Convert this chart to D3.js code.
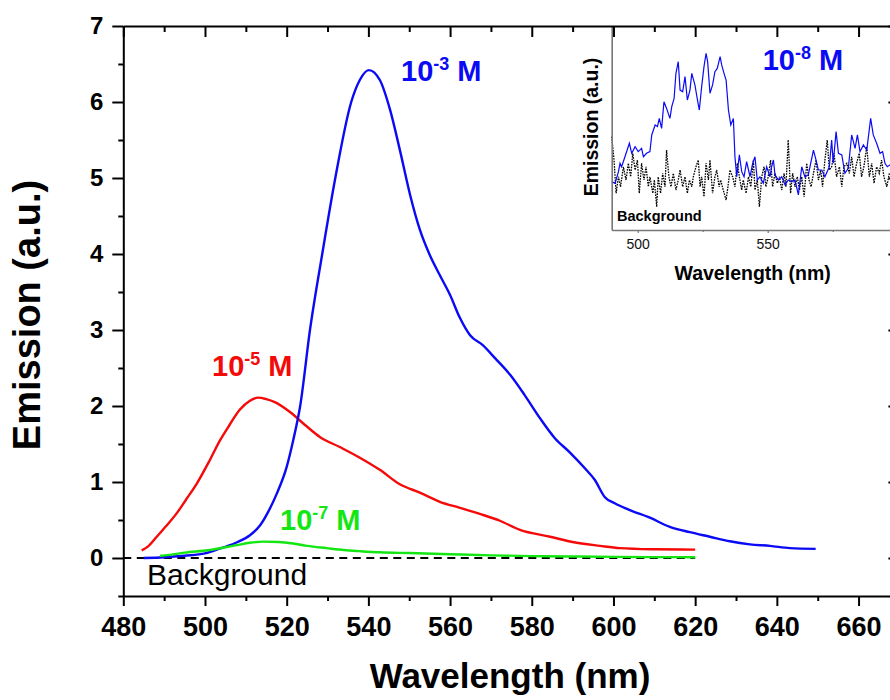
<!DOCTYPE html>
<html><head><meta charset="utf-8">
<script src="https://cdn.jsdelivr.net/npm/d3@7"></script>
<style>body{margin:0;background:#fff}svg{display:block;font-family:"Liberation Sans",Arial,Helvetica,sans-serif}</style>
</head><body><svg id="c" width="890" height="700"></svg>
<script>
// ---------- main chart data ----------
const blueWl  = [485,490,495,500,504,508,511,513.5,515.5,517.6,520,521.6,523.3,525.7,528.7,531.9,535.8,537.9,540.1,542.8,545.3,547.7,550.2,552.6,555,557.5,560,562.4,564.9,568,571,574.7,578.3,582,585.6,589.3,593,595.4,597.9,600.3,604,608.9,613.8,618.7,623.6,628.5,633.4,638.3,643.2,649.5];
const blueVal = [0.0,0.01,0.03,0.06,0.13,0.21,0.30,0.43,0.61,0.85,1.20,1.55,2.0,3.0,4.0,5.0,6.0,6.29,6.42,6.29,5.9,5.37,4.78,4.32,3.99,3.72,3.46,3.16,2.93,2.8,2.63,2.41,2.14,1.84,1.58,1.39,1.18,1.03,0.80,0.72,0.63,0.53,0.41,0.34,0.28,0.22,0.18,0.16,0.13,0.12];
const redWl   = [484.5,486,488.2,490.5,493.1,495.5,498,501.2,503.7,506,508.5,511,513,515,517.1,520.8,524.5,528.2,533,537.9,542.8,547.7,552.6,557.5,562.4,567.3,572.2,577.1,584.5,590,596.7,601.6,610,620];
const redVal  = [0.10,0.15,0.28,0.42,0.59,0.78,0.98,1.29,1.55,1.75,1.95,2.07,2.11,2.09,2.05,1.92,1.75,1.59,1.46,1.32,1.16,0.97,0.86,0.74,0.66,0.58,0.49,0.37,0.28,0.21,0.16,0.13,0.115,0.11];
const greenWl = [489,490.2,495,501.2,507.8,511,514.3,518,521.6,525,529.8,534,538,542.8,550,560,570,580,590,600,610,620];
const greenVal= [0.03,0.035,0.07,0.105,0.17,0.2,0.215,0.21,0.19,0.16,0.13,0.105,0.09,0.075,0.065,0.05,0.035,0.025,0.02,0.015,0.012,0.01];
const bgLineWl = [480,620];
const bgLineVal = [0,0];
const xMajor = [480,500,520,540,560,580,600,620,640,660];
const xMinor = [490,510,530,550,570,590,610,630,650,670];
const yMajor = [0,1,2,3,4,5,6,7];
const yMinor = [-0.5,0.5,1.5,2.5,3.5,4.5,5.5,6.5];

// ---------- inset data ----------
const insetWl = [490.0,491.3,492.6,493.2,493.8,495.1,496.8,497.7,499.0,500.2,501.5,502.2,503.4,504.7,505.4,506.7,507.6,508.3,509.2,510.1,511.1,512.4,513.1,514.0,514.7,515.6,516.3,517.3,518.2,519.1,520.1,520.8,522.0,523.1,523.7,524.6,525.5,526.3,526.9,527.8,528.8,529.7,530.6,531.7,532.3,533.2,534.0,534.9,535.8,536.8,537.4,538.1,539.1,540.0,540.9,541.9,543.2,544.2,545.1,546.0,547.0,548.3,549.6,550.9,551.5,552.2,552.8,554.1,555.4,556.7,557.9,559.2,560.5,561.8,563.1,564.3,565.6,567.6,568.6,569.5,570.8,572.0,573.7,574.6,575.2,576.3,577.2,578.5,579.7,581.0,582.3,583.6,584.5,585.5,586.8,588.1,589.6,590.6,591.9,593.2,594.2,595.1,596.0,597.0,598.5,600.0];
const insetBlue = [23.7,22.9,28.6,32.7,31.0,35.9,42.5,37.6,40.8,38.4,40.0,35.9,37.6,38.4,46.6,51.5,50.7,54.7,49.8,62.9,59.6,54.7,60.5,64.5,76.8,82.5,68.6,67.8,75.2,63.7,68.6,76.8,71.1,62.9,58.8,70.3,80.1,86.6,82.5,67.0,71.1,77.6,79.2,85.0,80.9,76.8,73.5,58.8,51.5,54.7,35.9,26.1,36.8,28.6,26.1,33.5,26.1,32.7,35.9,24.5,26.1,22.9,31.0,26.1,31.0,34.3,27.0,24.5,26.1,22.1,24.5,23.7,24.5,17.2,31.0,26.1,27.0,39.2,34.3,29.4,29.4,26.1,31.0,44.1,32.7,48.2,37.6,36.8,27.8,30.2,46.6,40.0,46.6,38.4,41.7,39.2,54.7,46.6,42.5,37.6,38.4,32.7,31.0,31.9,33.0,30.0];
const insetBgWl = [490.0,490.9,491.7,492.6,493.4,494.5,495.5,496.4,497.3,498.1,499.0,499.9,500.6,501.5,502.4,503.2,504.1,504.7,505.8,506.4,507.3,507.9,508.8,509.6,510.5,511.1,512.0,512.8,513.7,514.7,515.6,516.3,517.3,518.2,519.1,519.9,520.8,521.4,522.4,523.3,524.0,524.6,525.5,526.3,527.2,527.8,528.8,529.7,530.4,531.3,531.9,532.9,534.0,534.7,535.5,536.5,537.4,538.3,539.1,540.0,540.6,541.7,542.6,543.5,544.5,545.1,546.0,546.8,547.7,548.6,549.3,550.2,551.1,551.9,552.8,553.7,554.5,555.4,556.3,557.0,557.9,558.8,559.6,560.5,561.4,562.2,563.1,564.0,565.0,565.9,566.7,567.6,568.6,569.5,570.4,571.1,572.0,572.9,573.7,574.6,575.5,576.5,577.6,578.5,579.3,580.4,581.4,582.3,583.2,584.2,585.2,586.1,587.0,588.1,589.1,590.0,590.9,591.9,592.9,593.8,594.7,595.8,596.8];
const insetBgVal = [45.8,34.3,18.0,26.1,21.2,31.0,24.5,32.7,26.1,37.6,29.4,34.3,18.0,32.7,24.5,31.0,21.2,26.1,18.0,24.5,11.4,26.1,18.0,27.8,21.2,39.2,26.1,21.2,27.8,19.6,24.5,29.4,21.2,26.1,18.0,24.5,21.2,26.1,31.0,34.3,21.2,26.1,16.3,32.7,24.5,34.3,18.0,26.1,29.4,21.2,24.5,19.6,14.7,21.2,29.4,26.1,21.2,32.7,26.1,19.6,24.5,18.0,26.1,21.2,34.3,19.6,24.5,11.4,26.1,31.0,21.2,26.1,34.3,21.2,27.8,22.9,26.1,19.6,27.8,21.2,44.1,18.0,27.8,21.2,26.1,19.6,26.1,16.3,32.7,24.5,21.2,27.8,34.3,24.5,29.4,21.2,34.3,44.1,29.4,31.0,37.6,26.1,31.0,21.2,31.0,32.7,27.8,35.9,26.1,32.7,37.6,26.1,31.0,40.9,26.1,32.7,22.9,31.0,27.8,34.3,26.1,21.2,27.8];
const insetXMajor = [500,550,600];
const insetXMinor = [525,575];

// ---------- colours ----------
const C_BLUE = "#0a0af5", C_RED = "#f50a0a", C_GREEN = "#14e614";

const svg = d3.select("#c");
const x = d3.scaleLinear().domain([480,670]).range([123.3, 899.4]);
const y = d3.scaleLinear().domain([-0.5,7]).range([596, 26]);

const line = d3.line().x(d=>x(d[0])).y(d=>y(d[1])).curve(d3.curveMonotoneX);

function drawSeries(wl, val, color, w){
  svg.append("path").datum(d3.zip(wl,val)).attr("d",line)
    .attr("fill","none").attr("stroke",color).attr("stroke-width",w).attr("stroke-linejoin","round");
}
// dashed background
svg.append("path").datum(d3.zip(bgLineWl,bgLineVal)).attr("d",d3.line().x(d=>x(d[0])).y(d=>y(d[1])))
  .attr("fill","none").attr("stroke","#000").attr("stroke-width",2).attr("stroke-dasharray","8,5.5");
drawSeries(redWl, redVal, C_RED, 2.4);
drawSeries(blueWl, blueVal, C_BLUE, 2.4);
drawSeries(greenWl, greenVal, C_GREEN, 2.4);

// ---------- inset ----------
const ix = d3.scaleLinear().domain([490,600]).range([611.7, 897.7]);
const iy = d3.scaleLinear().domain([0,100]).range([230, 26]);
svg.append("rect").attr("x",ix(490)).attr("y",iy(100)).attr("width",ix(600)-ix(490)).attr("height",iy(0)-iy(100)).attr("fill","#fff");
const iline = d3.line().x(d=>ix(d[0])).y(d=>iy(d[1]));
svg.append("path").datum(d3.zip(insetBgWl,insetBgVal)).attr("d",iline)
  .attr("fill","none").attr("stroke","#000").attr("stroke-width",1.3).attr("stroke-dasharray","1.6,1.1");
svg.append("path").datum(d3.zip(insetWl,insetBlue)).attr("d",iline)
  .attr("fill","none").attr("stroke",C_BLUE).attr("stroke-width",1.2);
// inset axes
const ib = svg.append("g").attr("transform",`translate(0,${iy(0)})`)
  .call(d3.axisBottom(ix).tickValues(insetXMajor).tickSize(3).tickPadding(6).tickSizeOuter(0).tickFormat(d=>d===600?"":d));
ib.select(".domain").attr("stroke","#777").attr("stroke-width",1.6);
ib.selectAll(".tick line").attr("stroke","#777").attr("stroke-width",1.2);
ib.selectAll("text").attr("font-size",14).attr("fill","#111").attr("font-family","Liberation Sans, Arial, sans-serif");
const ibm = svg.append("g").attr("transform",`translate(0,${iy(0)})`)
  .call(d3.axisBottom(ix).tickValues(insetXMinor).tickSize(2).tickFormat(""));
ibm.select(".domain").remove();
ibm.selectAll(".tick line").attr("stroke","#777").attr("stroke-width",1.2);
const il = svg.append("g").attr("transform",`translate(${ix(490)},0)`)
  .call(d3.axisLeft(iy).tickValues([]).tickSizeOuter(0));
il.select(".domain").attr("stroke","#777").attr("stroke-width",1.6);

svg.append("text").attr("x",617).attr("y",221).attr("font-size",14.5).attr("font-weight","bold").text("Background");
svg.append("text").attr("x",(ix(490)+ix(600))/2-2).attr("y",280).attr("text-anchor","middle")
  .attr("font-size",19.5).attr("font-weight","bold").text("Wavelength (nm)");
svg.append("text").attr("transform","translate(598,127) rotate(-90)").attr("text-anchor","middle")
  .attr("font-size",19.5).attr("font-weight","bold").text("Emission (a.u.)");

// ---------- main axes ----------
function styleAxis(g, fs){
  g.select(".domain").attr("stroke","#000").attr("stroke-width",2);
  g.selectAll(".tick line").attr("stroke","#000").attr("stroke-width",2);
  g.selectAll("text").attr("font-size",fs).attr("font-weight","bold").attr("fill","#000")
    .attr("font-family","Liberation Sans, Arial, sans-serif");
}
const gb = svg.append("g").attr("transform",`translate(0,${y(-0.5)})`)
  .call(d3.axisBottom(x).tickValues(xMajor).tickSize(10).tickPadding(11).tickSizeOuter(0).tickFormat(d3.format("d")));
styleAxis(gb, 27);
const gbm = svg.append("g").attr("transform",`translate(0,${y(-0.5)})`)
  .call(d3.axisBottom(x).tickValues(xMinor).tickSize(5).tickFormat(""));
gbm.select(".domain").remove(); styleAxis(gbm, 27);

const gt = svg.append("g").attr("transform",`translate(0,${y(7)})`)
  .call(d3.axisTop(x).tickValues(xMajor).tickSize(-11).tickSizeOuter(0).tickFormat(""));
styleAxis(gt, 27);
const gtm = svg.append("g").attr("transform",`translate(0,${y(7)})`)
  .call(d3.axisTop(x).tickValues(xMinor).tickSize(-6).tickFormat(""));
gtm.select(".domain").remove(); styleAxis(gtm, 27);

const gl = svg.append("g").attr("transform",`translate(${x(480)},0)`)
  .call(d3.axisLeft(y).tickValues(yMajor).tickSize(11).tickPadding(9).tickSizeOuter(0).tickFormat(d3.format("d")));
styleAxis(gl, 24);
const glm = svg.append("g").attr("transform",`translate(${x(480)},0)`)
  .call(d3.axisLeft(y).tickValues(yMinor).tickSize(5).tickFormat(""));
glm.select(".domain").remove(); styleAxis(glm, 24);

const gr = svg.append("g").attr("transform",`translate(${x(670)},0)`)
  .call(d3.axisRight(y).tickValues(yMajor).tickSize(-11).tickSizeOuter(0).tickFormat(""));
styleAxis(gr, 24);
const grm = svg.append("g").attr("transform",`translate(${x(670)},0)`)
  .call(d3.axisRight(y).tickValues(yMinor).tickSize(-6).tickFormat(""));
grm.select(".domain").remove(); styleAxis(grm, 24);

// axis titles
svg.append("text").attr("x",510).attr("y",688).attr("text-anchor","middle")
  .attr("font-size",35).attr("font-weight","bold").text("Wavelength (nm)");
svg.append("text").attr("transform","translate(40,315) rotate(-90)").attr("text-anchor","middle")
  .attr("font-size",38).attr("font-weight","bold").text("Emission (a.u.)");

// background label
svg.append("text").attr("x",147).attr("y",585).attr("font-size",30).text("Background");

// concentration labels
function conc(xp, yp, exp, color){
  const t = svg.append("text").attr("x",xp).attr("y",yp).attr("fill",color)
    .attr("font-size",29).attr("font-weight","bold");
  t.append("tspan").text("10");
  t.append("tspan").attr("font-size",18).attr("dy",-11).text(exp);
  t.append("tspan").attr("dy",11).text(" M");
}
conc(401, 81, "-3", C_BLUE);
conc(212, 376, "-5", C_RED);
conc(280, 530, "-7", C_GREEN);
conc(762.7, 70, "-8", C_BLUE);
</script></body></html>
